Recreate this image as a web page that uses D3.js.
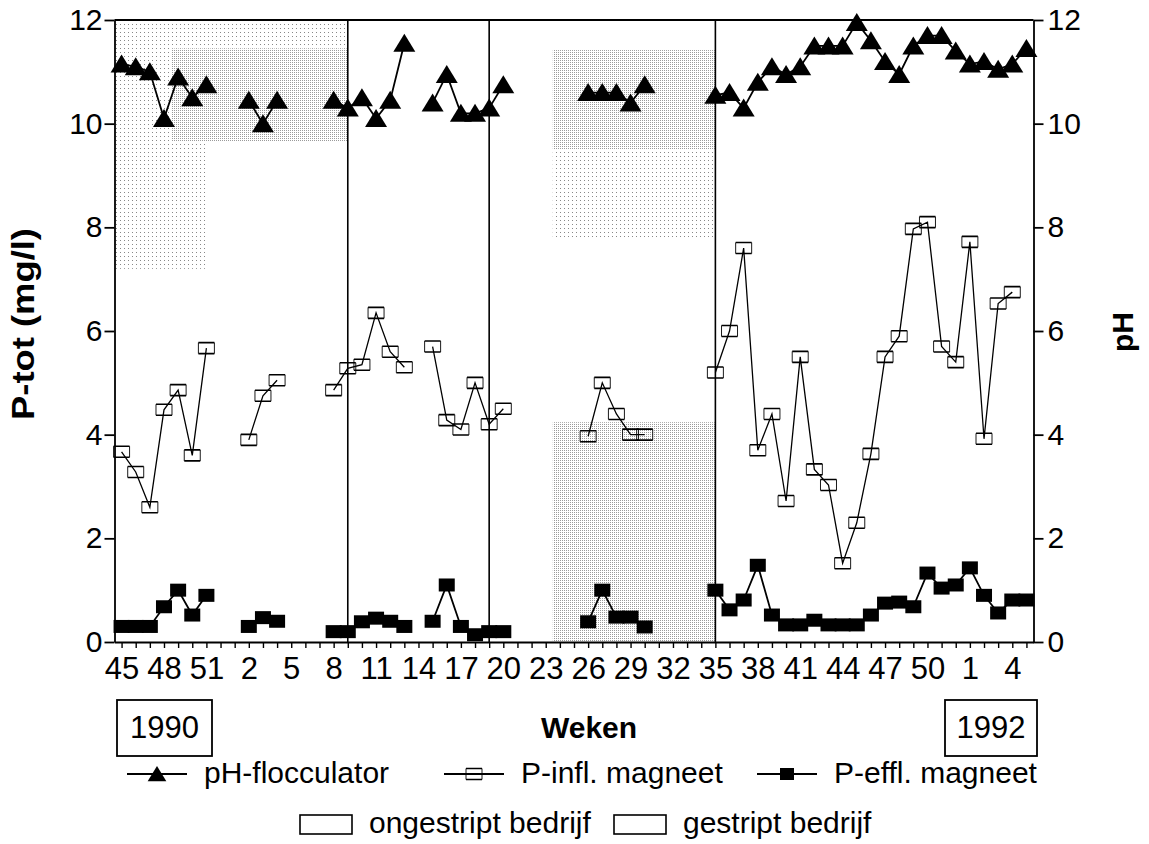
<!doctype html>
<html>
  <head>
    <meta charset="utf-8">
    <title>P-tot en pH per week</title>
    <script src="https://d3js.org/d3.v7.min.js"></script>
    <style type="text/css">
      body {
        margin: 0;
        background-color: #ffffff;
      }
      svg { display: block; }
      text {
        font-family: "Liberation Sans", Arial, Helvetica, sans-serif;
        fill: #000;
      }
    </style>
  </head>
  <body>
    <script>
      // weeks 45/1990 .. 5/1992
      var weeks = [45, 46, 47, 48, 49, 50, 51, 52,
        1, 2, 3, 4, 5, 6, 7, 8, 9, 10, 11, 12, 13, 14, 15, 16, 17, 18, 19, 20,
        21, 22, 23, 24, 25, 26, 27, 28, 29, 30, 31, 32, 33, 34, 35, 36, 37, 38,
        39, 40, 41, 42, 43, 44, 45, 46, 47, 48, 49, 50, 51, 52,
        1, 2, 3, 4, 5];

      var phFloc = [11.15, 11.1, 11.0, 10.1, 10.9, 10.5, 10.75, null, null,
        10.45, 10.0, 10.45, null, null, null,
        10.45, 10.3, 10.5, 10.1, 10.45, 11.55, null,
        10.4, 10.95, 10.2, 10.2, 10.3, 10.75, null, null, null, null, null,
        10.6, 10.6, 10.6, 10.4, 10.75, null, null, null, null,
        10.55, 10.6, 10.3, 10.8, 11.1, 10.95, 11.1, 11.5, 11.5, 11.5, 11.95,
        11.6, 11.2, 10.95, 11.5, 11.7, 11.7, 11.4, 11.15, 11.2, 11.05, 11.15, 11.45];

      var pInfl = [3.67, 3.28, 2.6, 4.48, 4.86, 3.6, 5.67, null, null,
        3.9, 4.75, 5.05, null, null, null,
        4.86, 5.28, 5.35, 6.35, 5.6, 5.3, null,
        5.7, 4.28, 4.1, 5.0, 4.2, 4.5, null, null, null, null, null,
        3.97, 5.0, 4.4, 4.0, 4.0, null, null, null, null,
        5.2, 6.0, 7.6, 3.7, 4.4, 2.72, 5.5, 3.33, 3.03, 1.52, 2.3,
        3.63, 5.5, 5.9, 7.97, 8.1, 5.7, 5.4, 7.72, 3.92, 6.53, 6.75, null];

      var pEffl = [0.3, 0.3, 0.3, 0.68, 1.0, 0.52, 0.9, null, null,
        0.3, 0.47, 0.4, null, null, null,
        0.2, 0.2, 0.39, 0.46, 0.4, 0.3, null,
        0.4, 1.1, 0.3, 0.14, 0.2, 0.2, null, null, null, null, null,
        0.39, 1.0, 0.48, 0.48, 0.29, null, null, null, null,
        1.0, 0.62, 0.81, 1.48, 0.52, 0.33, 0.33, 0.42, 0.33, 0.33, 0.33,
        0.52, 0.75, 0.77, 0.68, 1.33, 1.04, 1.1, 1.43, 0.9, 0.56, 0.81, 0.81];

      var yTicks = [0, 2, 4, 6, 8, 10, 12];

      // change of operation (week index)
      var changeAt = [16, 26, 42];

      // stippled periods: [from, to (week index), low, high]
      var stipDense = [[3.5, 16, 9.65, 11.45], [30.5, 42, 9.5, 11.42], [30.5, 42, 0, 4.24]];
      var stipLight = [[-0.5, 3.5, 9.65, 12], [3.5, 16, 11.45, 12], [-0.5, 6, 7.2, 9.65], [30.5, 42, 7.8, 9.5]];

      var seriesNames = ["pH-flocculator", "P-infl. magneet", "P-effl. magneet"];
      var periodNames = ["ongestript bedrijf", "gestript bedrijf"];
      var years = ["1990", "1992"];

      var w = 1149;
      var h = 844;

      var x = d3.scaleLinear()
        .domain([-0.5, weeks.length - 0.5])
        .range([114.5, 1033.5]);

      var y = d3.scaleLinear()
        .domain([0, 12])
        .range([642, 20]);

      var svg = d3.select("body")
        .append("svg")
        .attr("width", w)
        .attr("height", h);

      // dot patterns for the stippled areas
      var defs = svg.append("defs");
      var pd = defs.append("pattern").attr("id", "dense")
        .attr("width", 2).attr("height", 2).attr("patternUnits", "userSpaceOnUse");
      pd.append("rect").attr("width", 1).attr("height", 1).attr("fill", "#9a9a9a");
      var pl = defs.append("pattern").attr("id", "light")
        .attr("width", 4).attr("height", 4).attr("patternUnits", "userSpaceOnUse");
      pl.append("rect").attr("width", 1).attr("height", 1).attr("fill", "#888");

      function stipple(list, id) {
        svg.append("g").selectAll("rect")
          .data(list)
          .enter()
          .append("rect")
          .attr("x", function(d) { return x(d[0]); })
          .attr("width", function(d) { return x(d[1]) - x(d[0]); })
          .attr("y", function(d) { return y(d[3]); })
          .attr("height", function(d) { return y(d[2]) - y(d[3]); })
          .attr("fill", "url(#" + id + ")");
      }
      stipple(stipDense, "dense");
      stipple(stipLight, "light");

      // separator lines
      svg.append("g").selectAll("line")
        .data(changeAt)
        .enter()
        .append("line")
        .attr("x1", function(d) { return x(d); })
        .attr("x2", function(d) { return x(d); })
        .attr("y1", y(12))
        .attr("y2", y(0))
        .style("stroke", "#000")
        .style("stroke-width", 1.6);

      // top frame line
      svg.append("line")
        .attr("x1", x.range()[0]).attr("x2", x.range()[1])
        .attr("y1", y(12)).attr("y2", y(12))
        .style("stroke", "#000").style("stroke-width", 1.8);

      function drawLine(values, width) {
        var line = d3.line()
          .defined(function(d) { return d !== null; })
          .x(function(d, i) { return x(i); })
          .y(function(d) { return y(d); });
        svg.append("path")
          .datum(values)
          .attr("d", line)
          .style("fill", "none")
          .style("stroke", "#000")
          .style("stroke-width", width);
      }
      drawLine(pInfl, 1.3);
      drawLine(pEffl, 1.8);
      drawLine(phFloc, 1.8);

      function points(values) {
        return values.map(function(v, i) { return {i: i, v: v}; })
          .filter(function(d) { return d.v !== null; });
      }

      var triPath = "M0,-9.5L11,8.5L-11,8.5Z";
      var boxEdges = "M-8,-5.5H8M-8,5.5H8";
      var boxSides = "M-8,-5.5V5.5M8,-5.5V5.5";

      // P-infl markers: open boxes with heavy top and bottom
      var gi = svg.append("g").selectAll("g")
        .data(points(pInfl))
        .enter()
        .append("g")
        .attr("transform", function(d) { return "translate(" + x(d.i) + "," + y(d.v) + ")"; });
      gi.append("path").attr("d", boxEdges)
        .style("stroke", "#000").style("stroke-width", 1.6).style("fill", "none");
      gi.append("path").attr("d", boxSides)
        .style("stroke", "#000").style("stroke-width", 0.9).style("fill", "none");

      // P-effl markers
      svg.append("g").selectAll("rect")
        .data(points(pEffl))
        .enter()
        .append("rect")
        .attr("x", function(d) { return x(d.i) - 8; })
        .attr("y", function(d) { return y(d.v) - 6.5; })
        .attr("width", 16)
        .attr("height", 13)
        .style("fill", "#000");

      // pH markers
      svg.append("g").selectAll("path")
        .data(points(phFloc))
        .enter()
        .append("path")
        .attr("d", triPath)
        .attr("transform", function(d) { return "translate(" + x(d.i) + "," + y(d.v) + ")"; })
        .style("fill", "#000");

      // axes
      var axL = svg.append("g")
        .attr("transform", "translate(" + x.range()[0] + ",0)")
        .call(d3.axisLeft(y).tickValues(yTicks).tickSize(10).tickSizeOuter(0).tickPadding(2));
      var axR = svg.append("g")
        .attr("transform", "translate(" + x.range()[1] + ",0)")
        .call(d3.axisRight(y).tickValues(yTicks).tickSize(10).tickSizeOuter(0).tickPadding(4));
      var axB = svg.append("g")
        .attr("transform", "translate(0," + y(0) + ")")
        .call(d3.axisBottom(x)
          .tickValues(d3.range(weeks.length))
          .tickSize(6)
          .tickSizeOuter(0)
          .tickPadding(9)
          .tickFormat(function(i) { return i % 3 === 0 ? weeks[i] : ""; }));

      [axL, axR, axB].forEach(function(a) {
        a.attr("font-family", null).attr("font-size", null);
        a.selectAll("path, line").style("stroke", "#000").style("stroke-width", 1.8);
        a.selectAll("text").style("font-size", "30px").style("fill", "#000");
      });
      axB.selectAll("text").style("font-size", "31px");
      axB.selectAll("line").style("stroke-width", 1.4);

      // axis titles
      svg.append("text")
        .attr("transform", "translate(34,324) rotate(-90)")
        .attr("text-anchor", "middle")
        .attr("textLength", 192)
        .attr("lengthAdjust", "spacingAndGlyphs")
        .style("font-size", "31px")
        .style("font-weight", "bold")
        .text("P-tot (mg/l)");
      svg.append("text")
        .attr("transform", "translate(1133,332) rotate(-90)")
        .attr("text-anchor", "middle")
        .style("font-size", "30px")
        .style("font-weight", "bold")
        .text("pH");
      svg.append("text")
        .attr("x", 589)
        .attr("y", 738)
        .attr("text-anchor", "middle")
        .style("font-size", "30px")
        .style("font-weight", "bold")
        .text("Weken");

      // year boxes
      var yearBoxes = [[117, 212], [945, 1037]];
      years.forEach(function(t, k) {
        var b = yearBoxes[k];
        svg.append("rect")
          .attr("x", b[0]).attr("y", 700)
          .attr("width", b[1] - b[0]).attr("height", 56)
          .style("fill", "none").style("stroke", "#000").style("stroke-width", 1.8);
        svg.append("text")
          .attr("x", (b[0] + b[1]) / 2)
          .attr("y", 738)
          .attr("text-anchor", "middle")
          .style("font-size", "31px")
          .text(t);
      });

      // legend, first row
      var legX = [127, 444, 757];
      var legY = 774;
      seriesNames.forEach(function(name, k) {
        var g = svg.append("g").attr("transform", "translate(" + legX[k] + "," + legY + ")");
        g.append("line").attr("x1", 0).attr("x2", 60)
          .style("stroke", "#000").style("stroke-width", 1.8);
        var m = g.append("g").attr("transform", "translate(30,0)");
        if (k === 0) {
          m.append("path").attr("d", triPath).attr("transform", "scale(0.85)").style("fill", "#000");
        } else if (k === 1) {
          m.append("path").attr("d", boxEdges).style("stroke", "#000").style("stroke-width", 1.6);
          m.append("path").attr("d", boxSides).style("stroke", "#000").style("stroke-width", 0.9);
        } else {
          m.append("rect").attr("x", -7).attr("y", -6).attr("width", 14).attr("height", 12)
            .style("fill", "#000");
        }
        g.append("text")
          .attr("x", 77)
          .attr("y", 9)
          .style("font-size", "30px")
          .text(name);
      });

      // legend, second row
      var perX = [300, 614];
      periodNames.forEach(function(name, k) {
        svg.append("rect")
          .attr("x", perX[k]).attr("y", 815)
          .attr("width", 52).attr("height", 19)
          .style("fill", "none").style("stroke", "#000").style("stroke-width", 1.6);
        svg.append("text")
          .attr("x", perX[k] + 69)
          .attr("y", 833)
          .style("font-size", "30px")
          .text(name);
      });
    </script>
  </body>
</html>
